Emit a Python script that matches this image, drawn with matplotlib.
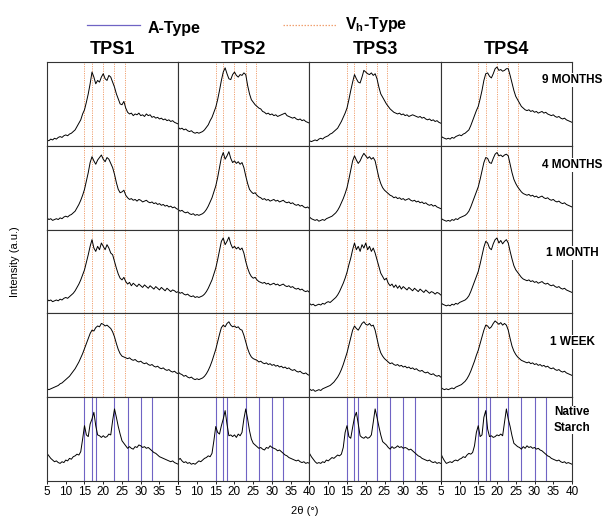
import numpy as np
import matplotlib.pyplot as plt
from matplotlib.lines import Line2D

plt.rcParams['font.family'] = ['Liberation Sans', 'DejaVu Sans']
plt.rcParams['mathtext.fontset'] = 'custom'
plt.rcParams['mathtext.rm'] = 'Liberation Sans'
plt.rcParams['mathtext.bf'] = 'Liberation Sans:bold'

two_theta = np.arange(5, 40.01, 0.5)

samples = ['TPS1', 'TPS2', 'TPS3', 'TPS4']
ages = ['9 MONTHS', '4 MONTHS', '1 MONTH', '1 WEEK', 'Native\nStarch']

a_type_peaks = [15.0, 17.0, 18.0, 23.0, 26.5, 30.0, 33.0]
vh_type_peaks = [15.0, 17.0, 20.0, 23.0, 25.7]

# intensities (fraction of panel height)
tps1_9m = [0.07, 0.06, 0.08, 0.07, 0.09, 0.08, 0.10, 0.11, 0.10, 0.12, 0.13, 0.12, 0.14, 0.15,
           0.17, 0.19, 0.23, 0.27, 0.31, 0.38, 0.43, 0.52, 0.62, 0.74, 0.88, 0.82, 0.74, 0.78,
           0.76, 0.82, 0.86, 0.80, 0.78, 0.84, 0.82, 0.76, 0.70, 0.62, 0.56, 0.50, 0.49, 0.53,
           0.45, 0.40, 0.38, 0.39, 0.36, 0.38, 0.37, 0.39, 0.36, 0.37, 0.35, 0.38, 0.36, 0.37,
           0.34, 0.35, 0.33, 0.34, 0.32, 0.33, 0.31, 0.32, 0.30, 0.31, 0.29, 0.30, 0.28, 0.27, 0.26]
tps2_9m = [0.22, 0.20, 0.21, 0.19, 0.20, 0.18, 0.17, 0.18, 0.16, 0.15, 0.16, 0.15, 0.16, 0.17,
           0.19, 0.22, 0.25, 0.30, 0.34, 0.40, 0.46, 0.55, 0.66, 0.78, 0.88, 0.93, 0.86, 0.80,
           0.79, 0.85, 0.88, 0.84, 0.82, 0.85, 0.84, 0.87, 0.85, 0.72, 0.62, 0.55, 0.52, 0.49,
           0.47, 0.45, 0.44, 0.41, 0.40, 0.38, 0.39, 0.37, 0.38, 0.36, 0.37, 0.35, 0.36, 0.37,
           0.38, 0.39, 0.36, 0.35, 0.34, 0.33, 0.34, 0.32, 0.31, 0.32, 0.30, 0.31, 0.29, 0.28, 0.27]
tps3_9m = [0.06, 0.05, 0.06, 0.07, 0.06, 0.08, 0.09, 0.08, 0.10, 0.11, 0.12, 0.14, 0.15, 0.17,
           0.19, 0.21, 0.25, 0.29, 0.34, 0.39, 0.45, 0.55, 0.66, 0.76, 0.85, 0.80, 0.76, 0.75,
           0.82, 0.90, 0.88, 0.86, 0.85, 0.87, 0.84, 0.86, 0.80, 0.70, 0.62, 0.58, 0.54, 0.50,
           0.47, 0.44, 0.42, 0.40, 0.39, 0.38, 0.39, 0.37, 0.38, 0.36, 0.37, 0.35, 0.36, 0.37,
           0.36, 0.35, 0.34, 0.35, 0.33, 0.34, 0.32, 0.31, 0.32, 0.30, 0.31, 0.29, 0.30, 0.28, 0.27]
tps4_9m = [0.12, 0.10, 0.09, 0.08, 0.09, 0.08, 0.10, 0.09, 0.11, 0.12, 0.13, 0.12, 0.14, 0.15,
           0.17, 0.19, 0.24, 0.30, 0.36, 0.42, 0.47, 0.56, 0.66, 0.78, 0.86, 0.87, 0.83, 0.81,
           0.86, 0.92, 0.94, 0.90, 0.91, 0.89, 0.90, 0.92, 0.92, 0.84, 0.75, 0.66, 0.59, 0.55,
           0.51, 0.47, 0.45, 0.43, 0.42, 0.43, 0.41, 0.42, 0.40, 0.41, 0.39, 0.40, 0.41, 0.39,
           0.40, 0.38, 0.37, 0.36, 0.37, 0.35, 0.34, 0.35, 0.33, 0.32, 0.33, 0.31, 0.30, 0.29, 0.28]

tps1_4m = [0.14, 0.12, 0.13, 0.11, 0.12, 0.13, 0.12, 0.14, 0.13, 0.15, 0.16, 0.15, 0.17, 0.18,
           0.20, 0.22, 0.26, 0.30, 0.35, 0.41, 0.48, 0.58, 0.68, 0.80, 0.87, 0.82, 0.78, 0.83,
           0.86, 0.89, 0.84, 0.81, 0.86, 0.84, 0.79, 0.74, 0.66, 0.56, 0.48, 0.44, 0.45, 0.47,
           0.41, 0.38, 0.36, 0.37, 0.35, 0.36, 0.34, 0.36, 0.35, 0.33, 0.34, 0.35, 0.33, 0.32,
           0.33, 0.31, 0.32, 0.30, 0.31, 0.29, 0.30, 0.28, 0.29, 0.27, 0.28, 0.26, 0.27, 0.25, 0.24]
tps2_4m = [0.24, 0.22, 0.23, 0.21, 0.20, 0.21, 0.19, 0.18, 0.19, 0.17, 0.18, 0.17, 0.18, 0.19,
           0.21, 0.24, 0.28, 0.33, 0.38, 0.45, 0.52, 0.62, 0.74, 0.86, 0.92, 0.84, 0.88, 0.93,
           0.85, 0.80, 0.82, 0.79, 0.81, 0.78, 0.80, 0.74, 0.64, 0.55, 0.48, 0.45, 0.43, 0.44,
           0.41, 0.39, 0.38, 0.36, 0.37, 0.35, 0.36, 0.34, 0.35, 0.36, 0.34, 0.35, 0.33, 0.34,
           0.35, 0.33, 0.32, 0.33, 0.31, 0.32, 0.30, 0.29, 0.30, 0.28, 0.29, 0.27, 0.26, 0.27, 0.25]
tps3_4m = [0.15, 0.13, 0.12, 0.11, 0.12, 0.10, 0.11, 0.12, 0.11, 0.13, 0.14, 0.15, 0.16, 0.18,
           0.20, 0.23, 0.27, 0.32, 0.37, 0.43, 0.50, 0.60, 0.71, 0.82, 0.88, 0.83, 0.79, 0.82,
           0.87, 0.91, 0.88, 0.85, 0.87, 0.84, 0.86, 0.82, 0.72, 0.62, 0.55, 0.50, 0.47, 0.45,
           0.43, 0.41, 0.40, 0.38, 0.39, 0.37, 0.38, 0.36, 0.37, 0.35, 0.36, 0.37, 0.35, 0.34,
           0.35, 0.33, 0.34, 0.32, 0.33, 0.31, 0.32, 0.30, 0.29, 0.30, 0.28, 0.29, 0.27, 0.26, 0.25]
tps4_4m = [0.14, 0.12, 0.11, 0.10, 0.11, 0.10, 0.12, 0.11, 0.13, 0.12, 0.14, 0.15, 0.16, 0.17,
           0.19, 0.22, 0.27, 0.33, 0.39, 0.45, 0.51, 0.60, 0.70, 0.80, 0.86, 0.85, 0.80, 0.79,
           0.85, 0.90, 0.92, 0.88, 0.89, 0.87, 0.89, 0.90, 0.88, 0.78, 0.68, 0.60, 0.55, 0.51,
           0.48, 0.45, 0.43, 0.42, 0.41, 0.42, 0.40, 0.41, 0.39, 0.40, 0.38, 0.39, 0.40, 0.38,
           0.37, 0.38, 0.36, 0.35, 0.36, 0.34, 0.33, 0.34, 0.32, 0.31, 0.32, 0.30, 0.29, 0.28, 0.27]

tps1_1m = [0.17, 0.15, 0.16, 0.14, 0.15, 0.16, 0.15, 0.17, 0.16, 0.18, 0.19, 0.18, 0.20, 0.22,
           0.24, 0.27, 0.31, 0.35, 0.40, 0.46, 0.52, 0.61, 0.70, 0.80, 0.88, 0.78, 0.74, 0.80,
           0.76, 0.84, 0.80, 0.76, 0.82, 0.78, 0.72, 0.70, 0.62, 0.54, 0.47, 0.42, 0.40, 0.43,
           0.38, 0.35, 0.37, 0.33, 0.36, 0.34, 0.32, 0.35, 0.33, 0.31, 0.34, 0.32, 0.30, 0.33,
           0.31, 0.29, 0.32, 0.30, 0.28, 0.31, 0.29, 0.27, 0.30, 0.28, 0.26, 0.28, 0.27, 0.25, 0.26]
tps2_1m = [0.26, 0.24, 0.25, 0.23, 0.22, 0.23, 0.21, 0.20, 0.21, 0.19, 0.20, 0.19, 0.20, 0.21,
           0.23, 0.26, 0.30, 0.35, 0.40, 0.47, 0.54, 0.64, 0.75, 0.86, 0.90, 0.82, 0.86, 0.91,
           0.83, 0.78, 0.80, 0.77, 0.79, 0.76, 0.78, 0.72, 0.62, 0.54, 0.48, 0.44, 0.42, 0.43,
           0.40, 0.38, 0.37, 0.36, 0.37, 0.35, 0.36, 0.34, 0.35, 0.36, 0.34, 0.35, 0.33, 0.34,
           0.35, 0.33, 0.32, 0.33, 0.31, 0.32, 0.30, 0.29, 0.30, 0.28, 0.29, 0.27, 0.26, 0.27, 0.25]
tps3_1m = [0.12, 0.10, 0.11, 0.09, 0.10, 0.11, 0.10, 0.12, 0.11, 0.13, 0.14, 0.13, 0.15, 0.17,
           0.19, 0.22, 0.26, 0.31, 0.36, 0.42, 0.49, 0.58, 0.66, 0.76, 0.84, 0.76, 0.80, 0.74,
           0.82, 0.78, 0.84, 0.76, 0.80, 0.74, 0.78, 0.72, 0.64, 0.56, 0.48, 0.44, 0.40, 0.42,
           0.36, 0.33, 0.35, 0.31, 0.34, 0.30, 0.33, 0.29, 0.32, 0.30, 0.28, 0.31, 0.29, 0.27,
           0.30, 0.28, 0.26, 0.29, 0.27, 0.25, 0.28, 0.26, 0.24, 0.26, 0.25, 0.23, 0.25, 0.24, 0.22]
tps4_1m = [0.13, 0.11, 0.10, 0.09, 0.10, 0.09, 0.11, 0.10, 0.12, 0.11, 0.13, 0.14, 0.15, 0.16,
           0.18, 0.21, 0.26, 0.32, 0.38, 0.44, 0.50, 0.59, 0.69, 0.79, 0.86, 0.84, 0.78, 0.76,
           0.83, 0.88, 0.90, 0.84, 0.87, 0.83, 0.86, 0.88, 0.84, 0.74, 0.65, 0.57, 0.52, 0.49,
           0.46, 0.43, 0.41, 0.40, 0.39, 0.40, 0.38, 0.39, 0.37, 0.38, 0.36, 0.37, 0.38, 0.36,
           0.35, 0.36, 0.34, 0.33, 0.34, 0.32, 0.31, 0.32, 0.30, 0.29, 0.30, 0.28, 0.27, 0.26, 0.25]

tps1_1w = [0.10, 0.09, 0.10, 0.11, 0.12, 0.13, 0.14, 0.16, 0.17, 0.19, 0.21, 0.23, 0.25, 0.28,
           0.31, 0.34, 0.38, 0.42, 0.47, 0.52, 0.58, 0.64, 0.70, 0.76, 0.80, 0.79, 0.83, 0.85,
           0.84, 0.88, 0.87, 0.85, 0.86, 0.84, 0.82, 0.78, 0.72, 0.64, 0.57, 0.52, 0.49, 0.48,
           0.47, 0.46, 0.47, 0.45, 0.44, 0.45, 0.43, 0.42, 0.43, 0.41, 0.40, 0.41, 0.39, 0.38,
           0.39, 0.37, 0.36, 0.37, 0.35, 0.34, 0.35, 0.33, 0.32, 0.33, 0.31, 0.30, 0.31, 0.29, 0.28]
tps2_1w = [0.30, 0.28, 0.27, 0.25, 0.26, 0.24, 0.23, 0.24, 0.22, 0.21, 0.22, 0.21, 0.22, 0.23,
           0.25, 0.28, 0.32, 0.37, 0.43, 0.50, 0.57, 0.66, 0.75, 0.83, 0.86, 0.84, 0.88, 0.90,
           0.86, 0.84, 0.85, 0.83, 0.84, 0.81, 0.80, 0.74, 0.66, 0.58, 0.52, 0.48, 0.46, 0.45,
           0.44, 0.42, 0.43, 0.41, 0.40, 0.41, 0.39, 0.40, 0.38, 0.39, 0.37, 0.38, 0.36, 0.37,
           0.35, 0.36, 0.34, 0.35, 0.33, 0.32, 0.33, 0.31, 0.30, 0.31, 0.29, 0.28, 0.29, 0.27, 0.26]
tps3_1w = [0.10, 0.08, 0.09, 0.07, 0.08, 0.09, 0.08, 0.10, 0.11, 0.12, 0.13, 0.14, 0.16, 0.18,
           0.21, 0.24, 0.28, 0.33, 0.39, 0.46, 0.53, 0.62, 0.71, 0.80, 0.85, 0.82, 0.80, 0.84,
           0.88, 0.90, 0.87, 0.86, 0.88, 0.85, 0.86, 0.80, 0.70, 0.60, 0.53, 0.49, 0.46, 0.44,
           0.42, 0.40, 0.41, 0.39, 0.38, 0.39, 0.37, 0.38, 0.36, 0.37, 0.35, 0.36, 0.34, 0.35,
           0.33, 0.34, 0.32, 0.31, 0.32, 0.30, 0.29, 0.30, 0.28, 0.27, 0.28, 0.26, 0.25, 0.26, 0.24]
tps4_1w = [0.12, 0.10, 0.09, 0.10, 0.09, 0.10, 0.11, 0.10, 0.12, 0.13, 0.14, 0.15, 0.17, 0.19,
           0.22, 0.26, 0.31, 0.37, 0.43, 0.50, 0.56, 0.64, 0.72, 0.80, 0.86, 0.85, 0.82, 0.84,
           0.88, 0.91, 0.89, 0.87, 0.89, 0.86, 0.88, 0.86, 0.80, 0.70, 0.61, 0.55, 0.51, 0.48,
           0.46, 0.44, 0.43, 0.42, 0.41, 0.42, 0.40, 0.41, 0.39, 0.40, 0.38, 0.39, 0.37, 0.38,
           0.36, 0.37, 0.35, 0.34, 0.35, 0.33, 0.32, 0.33, 0.31, 0.30, 0.31, 0.29, 0.28, 0.27, 0.26]

tps1_nat = [0.33, 0.30, 0.27, 0.25, 0.23, 0.24, 0.22, 0.21, 0.23, 0.22, 0.25, 0.24, 0.27, 0.26,
            0.29, 0.30, 0.32, 0.31, 0.35, 0.50, 0.66, 0.55, 0.53, 0.68, 0.74, 0.82, 0.66, 0.55,
            0.54, 0.52, 0.54, 0.52, 0.53, 0.56, 0.55, 0.72, 0.86, 0.76, 0.65, 0.56, 0.48, 0.45,
            0.42, 0.39, 0.41, 0.39, 0.38, 0.41, 0.40, 0.43, 0.42, 0.40, 0.41, 0.39, 0.40, 0.38,
            0.36, 0.34, 0.33, 0.31, 0.29, 0.28, 0.27, 0.26, 0.25, 0.24, 0.23, 0.24, 0.22, 0.21, 0.20]
tps2_nat = [0.25, 0.27, 0.24, 0.22, 0.23, 0.21, 0.22, 0.20, 0.21, 0.20, 0.22, 0.24, 0.23, 0.25,
            0.27, 0.28, 0.30, 0.29, 0.33, 0.48, 0.65, 0.58, 0.56, 0.66, 0.74, 0.84, 0.68, 0.54,
            0.55, 0.53, 0.55, 0.52, 0.56, 0.54, 0.58, 0.74, 0.86, 0.74, 0.60, 0.50, 0.45, 0.43,
            0.41, 0.39, 0.40, 0.38, 0.37, 0.40, 0.39, 0.42, 0.40, 0.39, 0.38, 0.36, 0.37, 0.35,
            0.33, 0.31, 0.30, 0.28, 0.27, 0.26, 0.25, 0.24, 0.25, 0.23, 0.22, 0.23, 0.21, 0.22, 0.21]
tps3_nat = [0.33, 0.29, 0.26, 0.23, 0.21, 0.22, 0.21, 0.23, 0.22, 0.25, 0.24, 0.26, 0.28, 0.27,
            0.29, 0.31, 0.30, 0.32, 0.40, 0.58, 0.66, 0.53, 0.51, 0.64, 0.76, 0.82, 0.68, 0.54,
            0.52, 0.51, 0.53, 0.51, 0.52, 0.55, 0.70, 0.86, 0.76, 0.65, 0.55, 0.47, 0.45, 0.43,
            0.40, 0.38, 0.41, 0.39, 0.40, 0.42, 0.40, 0.41, 0.39, 0.40, 0.39, 0.37, 0.38, 0.36,
            0.34, 0.32, 0.30, 0.29, 0.27, 0.26, 0.25, 0.24, 0.25, 0.23, 0.22, 0.23, 0.21, 0.22, 0.21]
tps4_nat = [0.33, 0.28, 0.24, 0.21, 0.22, 0.23, 0.22, 0.24, 0.25, 0.24, 0.26, 0.27, 0.29, 0.28,
            0.31, 0.33, 0.32, 0.34, 0.42, 0.58, 0.66, 0.53, 0.55, 0.76, 0.84, 0.62, 0.53, 0.54,
            0.52, 0.53, 0.55, 0.54, 0.56, 0.54, 0.70, 0.86, 0.74, 0.65, 0.54, 0.45, 0.43, 0.41,
            0.40, 0.38, 0.41, 0.39, 0.42, 0.40, 0.41, 0.39, 0.40, 0.38, 0.39, 0.37, 0.36, 0.34,
            0.32, 0.30, 0.29, 0.27, 0.26, 0.25, 0.24, 0.25, 0.23, 0.22, 0.23, 0.21, 0.22, 0.21, 0.20]

curves = [[tps1_9m, tps2_9m, tps3_9m, tps4_9m],
          [tps1_4m, tps2_4m, tps3_4m, tps4_4m],
          [tps1_1m, tps2_1m, tps3_1m, tps4_1m],
          [tps1_1w, tps2_1w, tps3_1w, tps4_1w],
          [tps1_nat, tps2_nat, tps3_nat, tps4_nat]]

a_color = '#6f63c4'
vh_color = '#f0a070'

fig, axes = plt.subplots(5, 4, figsize=(6.07, 5.19), dpi=100)
fig.subplots_adjust(left=47/607, right=572/607, top=1-62/519, bottom=1-481/519,
                    wspace=0, hspace=0)

all_ticks = [5, 10, 15, 20, 25, 30, 35, 40]
# which tick labels each column shows (neighbouring ones would collide)
shown = [[5, 10, 15, 20, 25, 30, 35],
         [5, 10, 15, 20, 25, 30, 35, 40],
         [10, 15, 20, 25, 30, 35],
         [5, 10, 15, 20, 25, 30, 35, 40]]

for r in range(5):
    for c in range(4):
        ax = axes[r, c]
        if r == 4:
            for p in a_type_peaks:
                ax.axvline(p, color=a_color, lw=0.8)
        else:
            for p in vh_type_peaks:
                ax.axvline(p, color=vh_color, lw=0.7, ls=(0, (1.2, 1.2)))
        ax.plot(two_theta, curves[r][c], color='black', lw=0.7)
        ax.set_xlim(5, 40)
        ax.set_ylim(0, 1)
        ax.set_yticks([])
        for s in ax.spines.values():
            s.set_linewidth(0.8)
            s.set_color('#333333')
        if r < 4:
            ax.set_xticks([])

for c in range(4):
    ax = axes[4, c]
    ax.set_xticks(shown[c])
    ax.set_xticklabels([str(t) for t in shown[c]])
    ax.set_xticks([t for t in all_ticks if t not in shown[c]], minor=True)
    ax.tick_params(axis='x', which='both', direction='out', length=2.5, width=0.6,
                   labelsize=8.5, pad=1)

for c, name in enumerate(samples):
    axes[0, c].set_title(name, fontsize=13, fontweight='bold', pad=6)

row_y = [80, 165, 253, 342, 420]
for r, lab in enumerate(ages):
    fig.text(572/607, 1 - row_y[r]/519, lab, fontsize=8.5, fontweight='bold',
             ha='center', va='center', linespacing=1.35,
             bbox=dict(facecolor='white', edgecolor='none', pad=0.5))

# legend on top
fig.add_artist(Line2D([87/607, 140/607], [1-25/519, 1-25/519], color=a_color, lw=0.9))
fig.text(148/607, 1-28/519, 'A-Type', fontsize=11.5, fontweight='bold', va='center')
fig.add_artist(Line2D([283/607, 337/607], [1-25/519, 1-25/519], color=vh_color, lw=0.9,
                      ls=(0, (1.2, 1.2))))
fig.text(345/607, 1-24/519, r'V$_\mathbf{h}$-Type', fontsize=11.5, fontweight='bold',
         va='center')

fig.text(15/607, 1-262/519, 'Intensity (a.u.)', rotation=90, fontsize=8,
         ha='center', va='center')
fig.text(305/607, 1-511/519, '2θ (°)', fontsize=8, ha='center', va='center')

fig.savefig('out.png', dpi=100)
